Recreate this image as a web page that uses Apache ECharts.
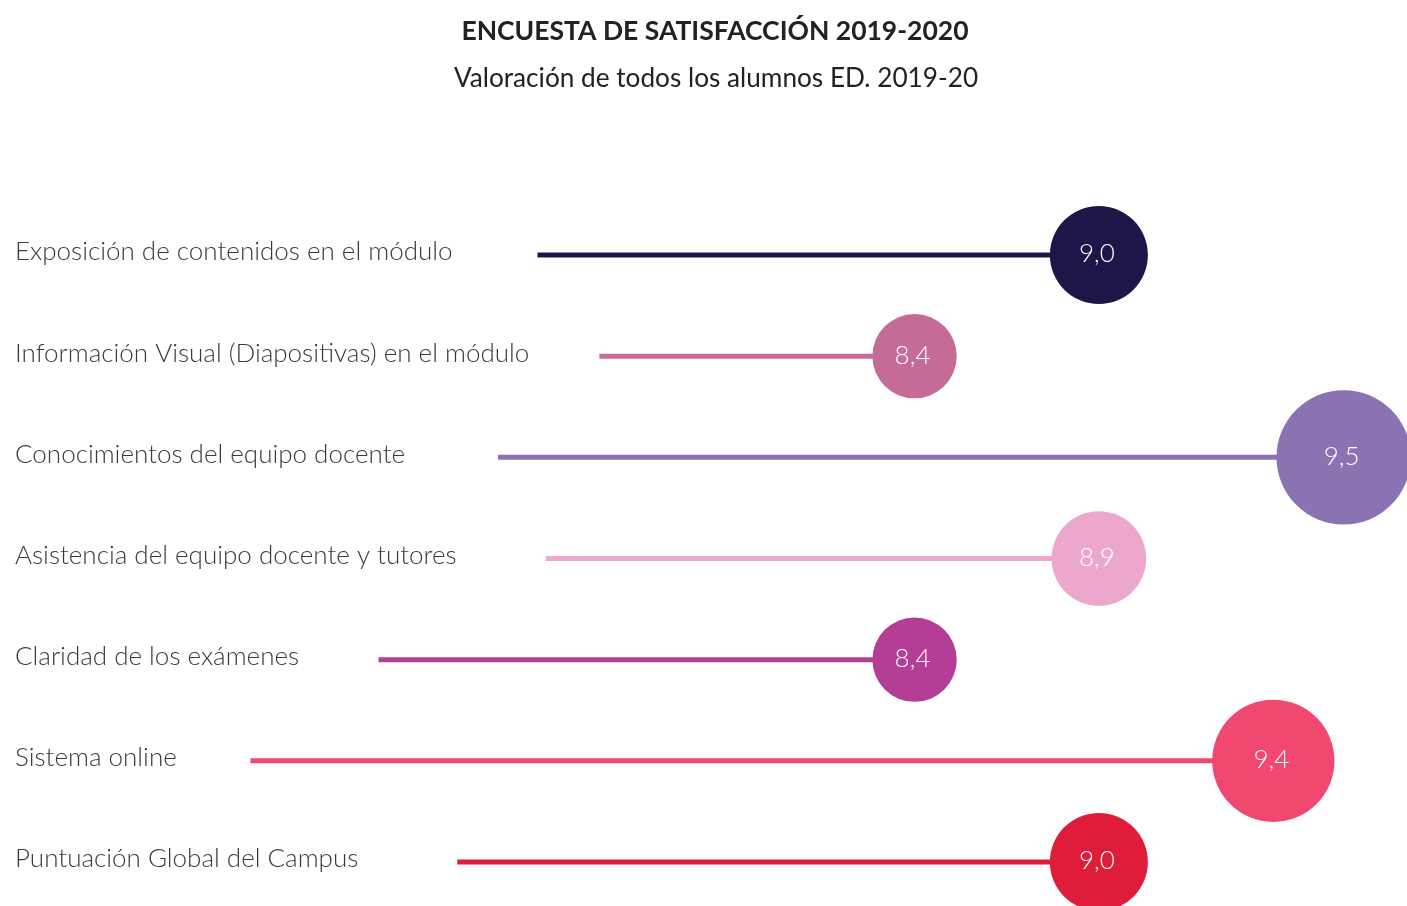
<!DOCTYPE html>
<html>
<head>
<meta charset="utf-8">
<script src="https://cdn.jsdelivr.net/npm/echarts@6/dist/echarts.min.js"></script>
<style>
html,body{margin:0;padding:0;background:#fff;}
#chart{width:1407px;height:906px;}
</style>
</head>
<body>
<div id="chart"></div>
<script>
// ---- data ----
var categories = [
  'Exposición de contenidos en el módulo',
  'Información Visual (Diapositivas) en el módulo',
  'Conocimientos del equipo docente',
  'Asistencia del equipo docente y tutores',
  'Claridad de los exámenes',
  'Sistema online',
  'Puntuación Global del Campus'
];
var scores = [9.0, 8.4, 9.5, 8.9, 8.4, 9.4, 9.0];
// stick extent on the chart's 0-100 track
var stickFrom = [38.2, 42.6, 35.4, 38.8, 26.9, 17.8, 32.5];
var stickTo   = [78.1, 65.0, 95.5, 78.1, 65.0, 90.5, 78.1];
var colors = ['#1f1548', '#c46b97', '#8b72b3', '#eca8cc', '#b43e96', '#f04870', '#df1d3b'];

var chart = echarts.init(document.getElementById('chart'), null, {renderer: 'canvas'});

var seriesData = categories.map(function (c, i) {
  return [i, stickFrom[i], stickTo[i], scores[i]];
});

function dotRadius(v) {
  return 30.8 + 18.2 / (10 - v);
}

function renderItem(params, api) {
  var i = api.value(0);
  var p0 = api.coord([api.value(1), i]);
  var p1 = api.coord([api.value(2), i]);
  var v = api.value(3);
  var r = dotRadius(v);
  var col = colors[i];
  return {
    type: 'group',
    children: [
      {
        type: 'text',
        style: {
          x: 15, y: p0[1] - 3,
          text: categories[i],
          fill: '#3a3a3a',
          font: '300 26px Lato',
          textAlign: 'left',
          textVerticalAlign: 'middle'
        }
      },
      {
        type: 'line',
        shape: {x1: p0[0], y1: p0[1], x2: p1[0], y2: p1[1]},
        style: {stroke: col, lineWidth: 5}
      },
      {
        type: 'circle',
        shape: {cx: p1[0], cy: p1[1], r: r},
        style: {fill: col}
      },
      {
        type: 'text',
        style: {
          x: p1[0] - 2, y: p1[1] - 1,
          text: v.toFixed(1).replace('.', ','),
          fill: '#ffffff',
          font: '300 26px Lato',
          textAlign: 'center',
          textVerticalAlign: 'middle'
        }
      }
    ]
  };
}

chart.setOption({
  backgroundColor: '#ffffff',
  animation: false,
  title: [
    {
      text: 'ENCUESTA DE SATISFACCIÓN 2019-2020',
      left: 710, top: 13, textAlign: 'center',
      textStyle: {fontFamily: 'Lato', fontWeight: 'bold', fontSize: 26.5, color: '#222222'}
    },
    {
      text: 'Valoración de todos los alumnos ED. 2019-20',
      left: 711, top: 61, textAlign: 'center',
      textStyle: {fontFamily: 'Lato', fontWeight: 'normal', fontSize: 26.2, color: '#222222'}
    }
  ],
  grid: {left: 0, right: 0, top: 255, bottom: 44, containLabel: false},
  xAxis: {type: 'value', min: 0, max: 100, show: false},
  yAxis: {type: 'category', data: categories, inverse: true, boundaryGap: false, show: false},
  series: [{
    type: 'custom',
    renderItem: renderItem,
    clip: false,
    encode: {x: [1, 2], y: 0},
    data: seriesData
  }]
});
</script>
</body>
</html>
